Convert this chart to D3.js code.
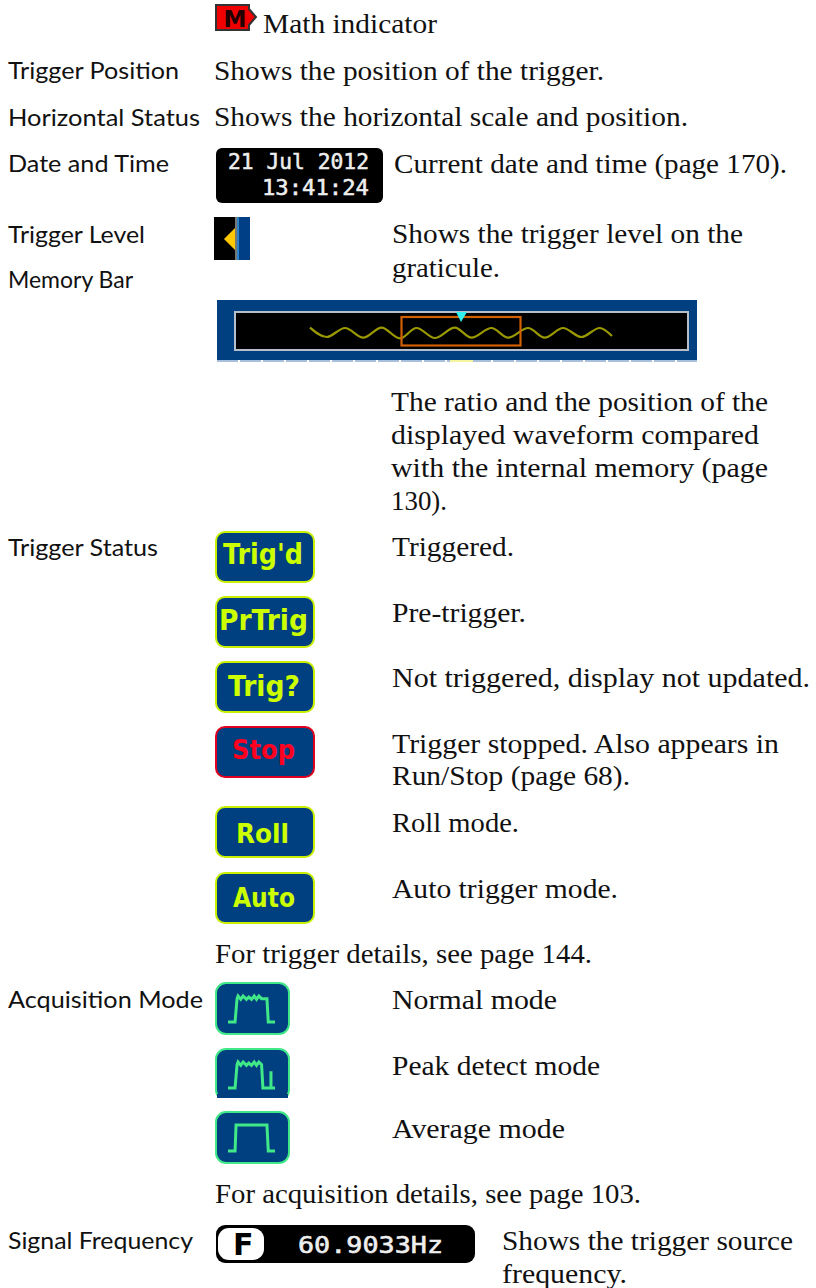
<!DOCTYPE html>
<html><head><meta charset="utf-8">
<script src="https://cdn.jsdelivr.net/npm/d3@7/dist/d3.min.js"></script>
<style>html,body{margin:0;padding:0;background:#fff}svg{display:block}</style>
</head><body><div id="c"></div>
<script>
// ---- content ----
const rowLabels = ["Trigger Position","Horizontal Status","Date and Time","Trigger Level","Memory Bar","Trigger Status","Acquisition Mode","Signal Frequency"];
const descriptions = ["Math indicator","Shows the position of the trigger.","Shows the horizontal scale and position.","Current date and time (page 170).","Shows the trigger level on the","graticule.","The ratio and the position of the","displayed waveform compared","with the internal memory (page","130).","Triggered.","Pre-trigger.","Not triggered, display not updated.","Trigger stopped. Also appears in","Run/Stop (page 68).","Roll mode.","Auto trigger mode.","For trigger details, see page 144.","Normal mode","Peak detect mode","Average mode","For acquisition details, see page 103.","Shows the trigger source","frequency."];
const triggerBadges = ["Trig'd","PrTrig","Trig?","Stop","Roll","Auto"];
const dateLines = ["21 Jul 2012","13:41:24"];
const frequencyText = "60.9033Hz";
// memory-bar trace (time, level)
const traceTime  = [0,50,105,160,215,270,320,375,435,485,545,595,655,705,760,815,870,907];
const traceLevel = [62,15,60,12,62,8,60,10,62,12,60,12,60,12,60,15,60,20];
// acquisition glyphs (time, level)
const normalT = [0,21,27,30,38,45,55,62,70,78,85,92,100,116,120,140];
const normalL = [0,0,70,78,68,78,68,75,68,78,68,78,70,70,0,0];
const peakT   = [0,21,27,30,38,45,55,62,70,78,85,92,100,104,128,128,128,140];
const peakL   = [0,0,70,78,68,78,68,75,68,78,68,78,70,0,0,50,0,0];
const avgT    = [0,21,24,116,120,140];
const avgL    = [0,0,78,78,0,0];

// ---- layout ----
const labelBaselines = [79,126,172,243,288,556,1008,1249];
const labelRight = [179,200,169,145,133,158,203,193];
const descLayout = [[263,33,437],[214,80,604],[214,126,688],[394,173,787],[392,243,743],[392,277,500],[391,411,768],[391,444,759],[391,477,768],[391,510,447],[392,556,514],[392,622,526],[392,687,810],[392,753,779],[392,785,630],[392,832,519],[392,898,618],[215,963,592],[392,1009,557],[392,1075,600],[392,1138,565],[215,1203,641],[502,1250,793],[502,1283,627]];
const badgeTops = [532,597,662,727,807,873];
const badgeText = [[223,303,564],[219,308,630],[228,300,696],[232,295,759],[236,289,843],[233,295,907]];
const acqTops = [983,1049,1112];

const svg = d3.select("#c").append("svg").attr("width",816).attr("height",1288);

svg.append("g").selectAll("text").data(rowLabels).join("text")
  .attr("x",8).attr("y",(d,i)=>labelBaselines[i])
  .attr("textLength",(d,i)=>labelRight[i]-8).attr("lengthAdjust","spacingAndGlyphs")
  .attr("font-family","Lato").attr("font-size",24).attr("fill","#111").text(d=>d);

svg.append("g").selectAll("text").data(descriptions).join("text")
  .attr("x",(d,i)=>descLayout[i][0]).attr("y",(d,i)=>descLayout[i][1])
  .attr("textLength",(d,i)=>descLayout[i][2]-descLayout[i][0]).attr("lengthAdjust","spacingAndGlyphs")
  .attr("font-family","'Liberation Serif'").attr("font-size",28).attr("fill","#111").text(d=>d);

// Math indicator
const m = svg.append("g");
m.append("path").attr("d","M216,5H249V9L256,17L249,25V30H216Z").attr("fill","#f00000").attr("stroke","#333").attr("stroke-width",2);
m.append("text").attr("x",235).attr("y",27).attr("text-anchor","middle").attr("font-family","'DejaVu Sans'").attr("font-weight","bold").attr("font-size",23).attr("fill","#200").text("M");

// date box
const dg = svg.append("g");
dg.append("rect").attr("x",216).attr("y",148).attr("width",167).attr("height",55).attr("rx",6).attr("fill","#000");
dg.selectAll("text").data(dateLines).join("text")
  .attr("x",(d,i)=>[228,262][i]).attr("y",(d,i)=>[169,195][i])
  .attr("textLength",(d,i)=>[141,107][i]).attr("lengthAdjust","spacingAndGlyphs")
  .attr("font-family","'DejaVu Sans Mono'").attr("font-size",21).attr("stroke","#eee").attr("stroke-width",0.5).attr("fill","#eee").text(d=>d);

// trigger level
const tl = svg.append("g");
tl.append("rect").attr("x",214).attr("y",217).attr("width",21).attr("height",43).attr("fill","#000");
tl.append("rect").attr("x",235).attr("y",217).attr("width",2).attr("height",43).attr("fill","#777");
tl.append("rect").attr("x",237).attr("y",217).attr("width",2).attr("height",43).attr("fill","#2a82c8");
tl.append("rect").attr("x",239).attr("y",217).attr("width",11).attr("height",43).attr("fill","#003f85");
tl.append("path").attr("d","M224,239L235,228V250Z").attr("fill","#ffc800");

// memory bar
const mb = svg.append("g");
mb.append("rect").attr("x",217).attr("y",300).attr("width",480).attr("height",60).attr("fill","#004080");
mb.append("rect").attr("x",235).attr("y",312).attr("width",453).attr("height",38).attr("fill","#000").attr("stroke","#b5bfcc").attr("stroke-width",2);
const tx = d3.scaleLinear().domain([0,907]).range([310,612]);
const ty = d3.scaleLinear().domain([0,70]).range([340,326]);
mb.append("path").attr("d",d3.line().x((d,i)=>tx(traceTime[i])).y(d=>ty(d)).curve(d3.curveMonotoneX)(traceLevel))
  .attr("fill","none").attr("stroke","#9a9a00").attr("stroke-width",2.2);
mb.append("rect").attr("x",401.5).attr("y",317).attr("width",119).attr("height",28.5).attr("fill","none").attr("stroke","#d06000").attr("stroke-width",2.2);
mb.append("path").attr("d","M456,312H467L461,322Z").attr("fill","#30f0f0");
mb.append("line").attr("x1",217).attr("x2",697).attr("y1",361).attr("y2",361).attr("stroke","#a9c0dc").attr("stroke-width",2).attr("stroke-dasharray","21,2");
mb.append("rect").attr("x",450).attr("y",360).attr("width",23).attr("height",2).attr("fill","#f5f5a0");

// trigger badges
const bg = svg.append("g").selectAll("g").data(triggerBadges).join("g");
bg.append("rect").attr("x",216).attr("y",(d,i)=>badgeTops[i]).attr("width",98).attr("height",50).attr("rx",9)
  .attr("fill","#004080").attr("stroke",d=>d==="Stop"?"#e00020":"#c8f000").attr("stroke-width",2);
bg.append("text").attr("x",(d,i)=>badgeText[i][0]).attr("y",(d,i)=>badgeText[i][2])
  .attr("textLength",(d,i)=>badgeText[i][1]-badgeText[i][0]).attr("lengthAdjust","spacingAndGlyphs")
  .attr("font-family","'DejaVu Sans'").attr("font-weight","bold")
  .attr("font-size",d=>d.length===4?26:28).attr("fill",d=>d==="Stop"?"#ff0020":"#ccff00").text(d=>d);

// acquisition icons
const acqShapes = [[normalT,normalL],[peakT,peakL],[avgT,avgL]];
const ax = d3.scaleLinear().domain([0,140]).range([228,275]);
const ag = svg.append("g").selectAll("g").data(acqShapes).join("g");
ag.append("rect").attr("x",216).attr("y",(d,i)=>acqTops[i]).attr("width",73).attr("height",51).attr("rx",10)
  .attr("fill","#004080").attr("stroke","#40e888").attr("stroke-width",2);
ag.append("path").attr("d",(d,i)=>{
    const ay = d3.scaleLinear().domain([0,78]).range([acqTops[i]+39,acqTops[i]+13]);
    return d3.line().x((v,k)=>ax(d[0][k])).y(v=>ay(v))(d[1]);
  }).attr("fill","none").attr("stroke","#40e888").attr("stroke-width",3);
// the second icon is cut off at its bottom edge in the source
svg.append("rect").attr("x",214).attr("y",1098).attr("width",77).attr("height",5).attr("fill","#fff");
svg.append("rect").attr("x",217).attr("y",1094).attr("width",71).attr("height",4).attr("fill","#004080");

// frequency
const fg = svg.append("g");
fg.append("rect").attr("x",216).attr("y",1225).attr("width",259).attr("height",38).attr("rx",9).attr("fill","#000");
fg.append("rect").attr("x",218).attr("y",1228).attr("width",46).attr("height",32).attr("rx",11).attr("fill","#fff");
fg.append("text").attr("x",233).attr("y",1255).attr("font-family","'DejaVu Sans'").attr("font-weight","bold").attr("font-size",30).attr("fill","#000").text("F");
fg.append("text").attr("x",298).attr("y",1253).attr("textLength",145).attr("lengthAdjust","spacingAndGlyphs").attr("font-family","'DejaVu Sans Mono'").attr("font-size",23).attr("stroke","#eee").attr("stroke-width",0.6).attr("fill","#eee").text(frequencyText);
</script></body></html>
